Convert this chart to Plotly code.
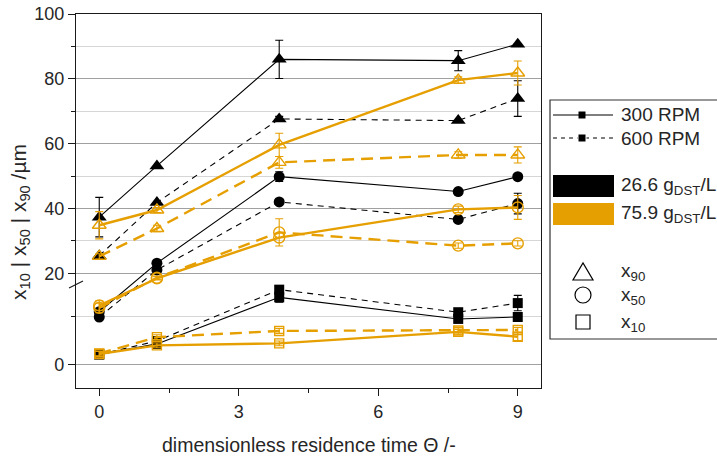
import plotly.graph_objects as go

# ---------------- data ----------------
theta = [0, 1.24, 3.87, 7.72, 9.0]

# 26.6 g/L (black)
x90_300_low = [37.3, 53.1, 86.0, 85.6, 90.7]
x90_300_low_err = [6.1, 0, 5.9, 3.1, 0]
x90_600_low = [25.4, 41.8, 67.6, 67.1, 73.9]
x90_600_low_err = [0, 0, 0.8, 0, 5.5]
x50_300_low = [11.0, 23.1, 49.8, 45.2, 49.8]
x50_300_low_err = [0, 0, 1.5, 0, 0]
x50_600_low = [9.9, 21.0, 42.0, 36.6, 41.5]
x50_600_low_err = [0, 0, 0, 0, 3.2]
x10_300_low = [2.1, 4.3, 14.0, 9.5, 9.9]
x10_300_low_err = [0, 0, 1.0, 0, 0]
x10_600_low = [2.1, 4.9, 15.6, 10.9, 12.8]
x10_600_low_err = [0, 0, 0, 0, 1.6]

# 75.9 g/L (orange)
x90_300_high = [34.8, 39.5, 59.6, 79.6, 81.8]
x90_300_high_err = [4.2, 0.8, 3.6, 1.0, 3.7]
x90_600_high = [25.2, 33.8, 54.2, 56.5, 56.5]
x90_600_high_err = [0.8, 1.0, 1.8, 1.0, 2.5]
x50_300_high = [12.3, 18.4, 31.0, 39.7, 40.3]
x50_300_high_err = [1.0, 0.5, 0.0, 1.0, 3.7]
x50_600_high = [11.8, 18.6, 32.6, 28.5, 29.2]
x50_600_high_err = [1.0, 0.5, 4.2, 0.8, 0.8]
x10_300_high = [2.2, 4.0, 4.4, 6.8, 5.8]
x10_300_high_err = [0.5, 0.5, 0.5, 0.5, 0.8]
x10_600_high = [2.3, 5.7, 7.0, 7.1, 7.2]
x10_600_high_err = [0.5, 0.5, 0.5, 0.5, 0.5]

y_major_ticks = [0, 20, 40, 60, 80, 100]
y_minor_ticks = [10, 30, 50, 70, 90]
x_major_ticks = [0, 3, 6, 9]
x_minor_ticks = [1.5, 4.5, 7.5]

# ---------------- broken-axis scale ----------------
BREAK = 17.0
K = 4.8 / 3.24  # lower segment stretched relative to upper


def T(v):
    return v if v >= BREAK else BREAK - (BREAK - v) * K


BLACK = "#000000"
ORANGE = "#E69F00"
FONT = "Liberation Sans, Arial, sans-serif"
TXT = "#262626"

fig = go.Figure()

series = [
    (x10_300_low, x10_300_low_err, BLACK, "solid", "square", 10),
    (x10_600_low, x10_600_low_err, BLACK, "dash", "square", 10),
    (x50_300_low, x50_300_low_err, BLACK, "solid", "circle", 11),
    (x50_600_low, x50_600_low_err, BLACK, "dash", "circle", 11),
    (x90_300_low, x90_300_low_err, BLACK, "solid", "triangle-up", 13),
    (x90_600_low, x90_600_low_err, BLACK, "dash", "triangle-up", 13),
    (x10_300_high, x10_300_high_err, ORANGE, "solid", "square-open", 9),
    (x10_600_high, x10_600_high_err, ORANGE, "dash", "square-open", 9),
    (x50_300_high, x50_300_high_err, ORANGE, "solid", "circle-open", 11),
    (x50_600_high, x50_600_high_err, ORANGE, "dash", "circle-open", 11),
    (x90_300_high, x90_300_high_err, ORANGE, "solid", "triangle-up-open", 12),
    (x90_600_high, x90_600_high_err, ORANGE, "dash", "triangle-up-open", 12),
]

for vals, errs, color, dash, symbol, size in series:
    yd = [T(v) for v in vals]
    up = [T(v + e) - T(v) for v, e in zip(vals, errs)]
    dn = [T(v) - T(v - e) for v, e in zip(vals, errs)]
    if color == BLACK:
        lw = 1.1
        dpat = "6px,5px" if dash == "dash" else "solid"
    else:
        lw = 2.4
        dpat = "12px,7px" if dash == "dash" else "solid"
    fig.add_trace(go.Scatter(
        x=theta, y=yd, mode="lines+markers", showlegend=False,
        line=dict(color=color, width=lw, dash=dpat),
        marker=dict(symbol=symbol, size=size, color=color,
                    line=dict(color=color, width=1.4 if color == ORANGE else 0)),
        error_y=dict(type="data", symmetric=False, array=up, arrayminus=dn,
                     color=color, thickness=1.1, width=4),
    ))

# ---------------- layout ----------------
L, R, TOP, BOT = 76, 541, 14, 388
W, H = R - L, BOT - TOP


def px(x):
    return (x - L) / W


def py(y):
    return (BOT - y) / H


fig.update_layout(
    width=717, height=456,
    margin=dict(l=L, r=717 - R, t=TOP, b=456 - BOT, autoexpand=False),
    paper_bgcolor="white", plot_bgcolor="white",
    font=dict(family=FONT, size=18, color=TXT),
    xaxis=dict(
        range=[-0.5, 9.5], tickvals=x_major_ticks, ticktext=[str(v) for v in x_major_ticks],
        automargin=False,
        showgrid=False, zeroline=False, showline=True, mirror=True,
        linecolor="#1a1a1a", linewidth=1.3, ticks="outside", ticklen=7,
        tickcolor="#1a1a1a", tickwidth=1.1,
        tickfont=dict(size=18, color=TXT),
        minor=dict(tickvals=x_minor_ticks, ticks="outside", ticklen=4,
                   tickcolor="#1a1a1a", showgrid=False),
    ),
    yaxis=dict(
        range=[-15.43, 100],
        tickvals=[T(v) for v in y_major_ticks], ticktext=[str(v) for v in y_major_ticks],
        automargin=False,
        showgrid=True, gridcolor="#a0a0a0", gridwidth=1.1,
        zeroline=False, showline=True, mirror=True,
        linecolor="#1a1a1a", linewidth=1.3, ticks="outside", ticklen=7,
        tickcolor="#1a1a1a", tickwidth=1.1,
        tickfont=dict(size=18, color=TXT),
        minor=dict(tickvals=[T(v) for v in y_minor_ticks], ticks="outside", ticklen=4,
                   tickcolor="#1a1a1a", showgrid=True, gridcolor="#d6d6d6", gridwidth=1.4),
    ),
)

shapes = []
annotations = []

# break mark on y axis
shapes.append(dict(type="line", xref="paper", yref="paper",
                   x0=px(69), y0=py(288), x1=px(83), y1=py(281),
                   line=dict(color="#1a1a1a", width=1.2)))

# axis titles
annotations.append(dict(xref="paper", yref="paper", x=px(20), y=py(222),
                        text="x<sub>10</sub> | x<sub>50</sub> | x<sub>90</sub> /µm",
                        textangle=-90, showarrow=False, xanchor="center", yanchor="middle",
                        font=dict(size=21, color=TXT)))
annotations.append(dict(xref="paper", yref="paper", x=px(309), y=py(445),
                        text="dimensionless residence time Θ /-",
                        showarrow=False, xanchor="center", yanchor="middle",
                        font=dict(size=19.5, color=TXT)))

# legend box
shapes.append(dict(type="rect", xref="paper", yref="paper",
                   x0=px(550), y0=py(339), x1=px(780), y1=py(100),
                   line=dict(color="#333333", width=1.2), fillcolor="white", layer="above"))

LEG_X0, LEG_X1, LEG_MID, TXT_X = 553, 613, 582, 619

# 300 RPM solid
shapes.append(dict(type="line", xref="paper", yref="paper",
                   x0=px(LEG_X0), x1=px(LEG_X1), y0=py(115), y1=py(115),
                   line=dict(color="black", width=1.2)))
shapes.append(dict(type="rect", xref="paper", yref="paper",
                   x0=px(LEG_MID - 3.5), x1=px(LEG_MID + 3.5), y0=py(118.5), y1=py(111.5),
                   fillcolor="black", line=dict(width=0)))
# 600 RPM dashed
shapes.append(dict(type="line", xref="paper", yref="paper",
                   x0=px(LEG_X0), x1=px(LEG_X1), y0=py(138), y1=py(138),
                   line=dict(color="black", width=1.2, dash="4px,4px")))
shapes.append(dict(type="rect", xref="paper", yref="paper",
                   x0=px(LEG_MID - 4.5), x1=px(LEG_MID + 4.5), y0=py(142.5), y1=py(133.5),
                   fillcolor="white", line=dict(width=0)))
shapes.append(dict(type="rect", xref="paper", yref="paper",
                   x0=px(LEG_MID - 3.5), x1=px(LEG_MID + 3.5), y0=py(141.5), y1=py(134.5),
                   fillcolor="black", line=dict(width=0)))
# concentration swatches
shapes.append(dict(type="rect", xref="paper", yref="paper",
                   x0=px(553), x1=px(614), y0=py(197), y1=py(175),
                   fillcolor="black", line=dict(width=0)))
shapes.append(dict(type="rect", xref="paper", yref="paper",
                   x0=px(553), x1=px(614), y0=py(225), y1=py(203),
                   fillcolor=ORANGE, line=dict(width=0)))
# symbol glyphs
tx, ty = 583, 272
shapes.append(dict(type="path", xref="paper", yref="paper",
                   path=f"M {px(tx-10)},{py(ty+8)} L {px(tx+10)},{py(ty+8)} L {px(tx)},{py(ty-9)} Z",
                   line=dict(color="black", width=1.2), fillcolor="rgba(0,0,0,0)"))
cx, cy = 583, 295
shapes.append(dict(type="circle", xref="paper", yref="paper",
                   x0=px(cx - 8), x1=px(cx + 8), y0=py(cy + 8), y1=py(cy - 8),
                   line=dict(color="black", width=1.2)))
sx, sy = 583, 322
shapes.append(dict(type="rect", xref="paper", yref="paper",
                   x0=px(sx - 7), x1=px(sx + 7), y0=py(sy + 7), y1=py(sy - 7),
                   line=dict(color="black", width=1.2)))

leg_texts = [
    ("300 RPM", 115), ("600 RPM", 138),
    ("26.6 g<sub>DST</sub>/L", 186), ("75.9 g<sub>DST</sub>/L", 214),
    ("x<sub>90</sub>", 272), ("x<sub>50</sub>", 296), ("x<sub>10</sub>", 323),
]
for t, yy in leg_texts:
    annotations.append(dict(xref="paper", yref="paper", x=px(TXT_X), y=py(yy),
                            text=t, showarrow=False, xanchor="left", yanchor="middle",
                            font=dict(size=19, color=TXT)))

fig.update_layout(shapes=shapes, annotations=annotations)

fig.write_html(
    "out.html",
    config={"displayModeBar": False},
    post_script="document.body.style.margin='0';document.body.style.overflow='hidden';",
)
